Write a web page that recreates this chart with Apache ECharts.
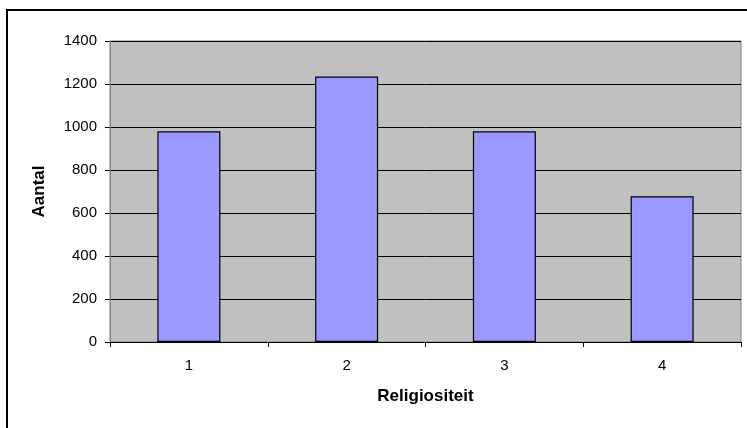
<!DOCTYPE html>
<html>
<head>
<meta charset="utf-8">
<script src="https://cdn.jsdelivr.net/npm/echarts@6/dist/echarts.min.js"></script>
<style>
html,body{margin:0;padding:0;background:#fff;}
#c{width:747px;height:428px;}
</style>
</head>
<body>
<div id="c"></div>
<script>
var categories = ['1', '2', '3', '4'];
var counts = [980, 1235, 980, 678];
var yTicks = { min: 0, max: 1400, interval: 200 };

var chart = echarts.init(document.getElementById('c'), null, { renderer: 'canvas' });
var font = '"Liberation Sans", Arial, sans-serif';
chart.setOption({
  animation: false,
  backgroundColor: '#ffffff',
  textStyle: { fontFamily: font },
  graphic: [{
    type: 'rect',
    shape: { x: 7, y: 10, width: 800, height: 500 },
    style: { fill: 'none', stroke: '#000', lineWidth: 2 },
    silent: true
  }],
  grid: {
    left: 110, right: 6, top: 41, bottom: 86,
    show: true, backgroundColor: '#C0C0C0', borderColor: '#808080', borderWidth: 1
  },
  xAxis: {
    type: 'category',
    data: categories,
    name: 'Religiositeit',
    nameLocation: 'middle',
    nameGap: 46,
    nameTextStyle: { fontFamily: font, fontWeight: 'bold', fontSize: 17, color: '#000' },
    axisLine: { show: true, lineStyle: { color: '#000', width: 1 } },
    axisTick: { show: true, alignWithLabel: false, length: 5, lineStyle: { color: '#000' } },
    axisLabel: { fontFamily: font, fontSize: 15, color: '#000', margin: 16 },
    splitLine: { show: false }
  },
  yAxis: {
    type: 'value',
    min: yTicks.min, max: yTicks.max, interval: yTicks.interval,
    name: 'Aantal',
    nameLocation: 'middle',
    nameGap: 62,
    nameRotate: 90,
    nameTextStyle: { fontFamily: font, fontWeight: 'bold', fontSize: 17, color: '#000' },
    axisLine: { show: true, lineStyle: { color: '#808080', width: 1 } },
    axisTick: { show: true, length: 5, lineStyle: { color: '#000' } },
    axisLabel: { fontFamily: font, fontSize: 15, color: '#000', margin: 13, formatter: function (v) { return String(v); } },
    splitLine: { show: true, lineStyle: { color: '#000', width: 1 } }
  },
  series: [{
    type: 'bar',
    data: counts,
    barWidth: 63,
    itemStyle: { color: '#9999FF', borderColor: '#000', borderWidth: 1.2 }
  }]
});
</script>
</body>
</html>
